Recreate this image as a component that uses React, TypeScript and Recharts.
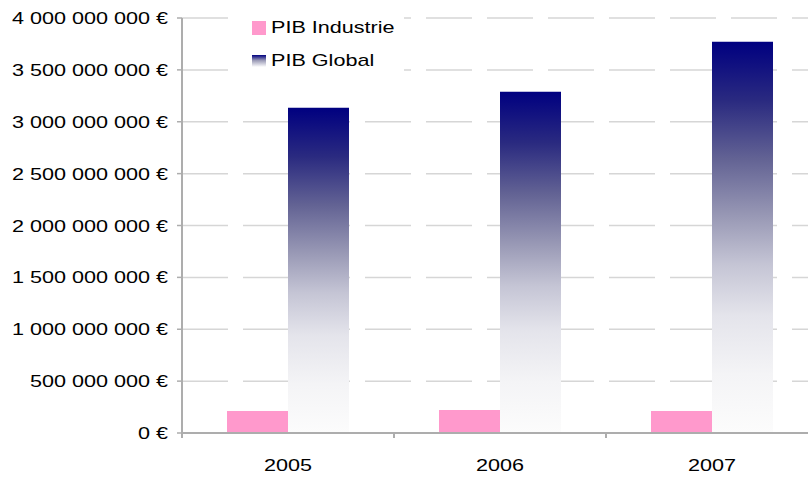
import React from 'react';
import { BarChart, Bar, XAxis, YAxis, CartesianGrid } from 'recharts';

const years = ['2005', '2006', '2007'];
const pibIndustrie = [212000000, 222000000, 212000000];
const pibGlobal = [3135000000, 3290000000, 3770000000];
const yTicks = [0, 500000000, 1000000000, 1500000000, 2000000000, 2500000000, 3000000000, 3500000000, 4000000000];
const seriesNames = ['PIB Industrie', 'PIB Global'];

const data = years.map((year, i) => ({
  year,
  industrie: pibIndustrie[i],
  global: pibGlobal[i],
}));

const FONT = '"Liberation Sans", Arial, sans-serif';
const AXIS_GREY = '#adadad';
const STRETCH = 1.27;

// gradient of the "PIB Global" bars: navy fading quickly to near white
const gradStops: [number, string][] = [
  [0, '#000080'],
  [0.15, '#2a2a80'],
  [0.3, '#636394'],
  [0.45, '#9a9ab6'],
  [0.57, '#c5c5d5'],
  [0.7, '#e4e4eb'],
  [0.85, '#f4f4f6'],
  [1, '#fcfcfc'],
];

const formatEuro = (v: number) =>
  v.toString().replace(/\B(?=(\d{3})+(?!\d))/g, ' ') + ' €';

const YTick = (props: any) => {
  const { x, y, payload } = props;
  return (
    <g transform={`translate(${x},${y})`}>
      <text
        x={0}
        y={0}
        textAnchor="end"
        dominantBaseline="central"
        transform={`scale(${STRETCH},1)`}
        fontSize={17}
        fontFamily={FONT}
        fill="#000"
      >
        {formatEuro(payload.value)}
      </text>
    </g>
  );
};

const XTick = (props: any) => {
  const { x, y, payload } = props;
  const half = payload.offset ?? 106;
  return (
    <g>
      <line x1={x - half} x2={x - half} y1={y - 7} y2={y - 2} stroke={AXIS_GREY} strokeWidth={2} />
      <g transform={`translate(${x},${y + 25})`}>
        <text
          x={0}
          y={0}
          textAnchor="middle"
          dominantBaseline="central"
          transform={`scale(${STRETCH},1)`}
          fontSize={17}
          fontFamily={FONT}
          fill="#000"
        >
          {payload.value}
        </text>
      </g>
    </g>
  );
};

const legendText: React.CSSProperties = {
  display: 'inline-block',
  transform: `scaleX(${STRETCH})`,
  transformOrigin: 'left center',
  fontSize: 17,
  fontFamily: FONT,
  color: '#000',
  lineHeight: '20px',
};

export default function App() {
  return (
    <div
      style={{
        position: 'absolute',
        left: 0,
        top: 0,
        width: 808,
        height: 478,
        overflow: 'hidden',
        background: '#fff',
      }}
    >
      <BarChart
        width={820}
        height={478}
        data={data}
        margin={{ top: 18, right: 2, bottom: 0, left: 0 }}
        barCategoryGap={45}
        barGap={0}
      >
        <defs>
          <linearGradient id="globalGrad" x1="0" y1="0" x2="0" y2="1">
            {gradStops.map(([o, c]) => (
              <stop key={o} offset={o} stopColor={c} />
            ))}
          </linearGradient>
        </defs>
        <CartesianGrid vertical={false} stroke="#d6d6d6" strokeWidth={1.5} strokeDasharray="46 15" />
        <XAxis
          dataKey="year"
          height={45}
          tick={<XTick />}
          tickLine={false}
          tickSize={5}
          tickMargin={2}
          axisLine={{ stroke: AXIS_GREY, strokeWidth: 2 }}
          interval={0}
        />
        <YAxis
          width={182}
          domain={[0, 4000000000]}
          ticks={yTicks}
          tick={<YTick />}
          tickSize={5}
          tickMargin={9}
          tickLine={{ stroke: AXIS_GREY, strokeWidth: 1.5 }}
          axisLine={{ stroke: AXIS_GREY, strokeWidth: 2 }}
          interval={0}
        />
        <Bar dataKey="industrie" name={seriesNames[0]} fill="#ff99cc" isAnimationActive={false} />
        <Bar dataKey="global" name={seriesNames[1]} fill="url(#globalGrad)" isAnimationActive={false} />
      </BarChart>
      <div
        style={{
          position: 'absolute',
          left: 243,
          top: 13,
          width: 161,
          height: 62,
          background: '#fff',
        }}
      >
        <div style={{ position: 'absolute', left: 9, top: 8, width: 14, height: 14, background: '#ff99cc' }} />
        <div style={{ position: 'absolute', left: 28, top: 5 }}>
          <span style={legendText}>{seriesNames[0]}</span>
        </div>
        <div
          style={{
            position: 'absolute',
            left: 9,
            top: 42,
            width: 14,
            height: 12,
            background: 'linear-gradient(#000080, #9a9ab6 45%, #ffffff)',
          }}
        />
        <div style={{ position: 'absolute', left: 28, top: 38 }}>
          <span style={legendText}>{seriesNames[1]}</span>
        </div>
      </div>
    </div>
  );
}
